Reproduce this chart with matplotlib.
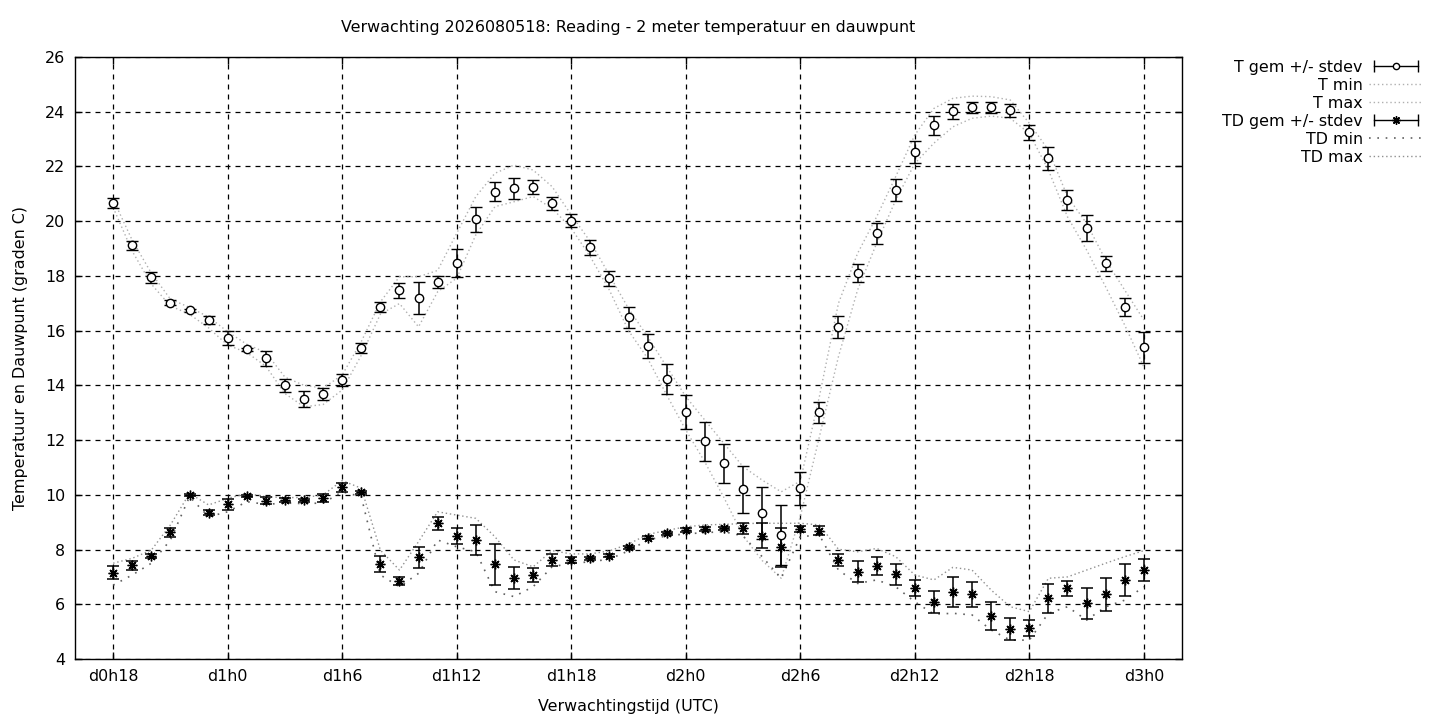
import matplotlib
matplotlib.use("Agg")
import matplotlib.pyplot as plt
from matplotlib.lines import Line2D
from matplotlib.legend_handler import HandlerLine2D, HandlerTuple

# forecast hours (d0h18 .. d3h0)
hours = list(range(18, 73))

t_mean = [20.65, 19.12, 17.95, 17.02, 16.74, 16.38, 15.72, 15.32, 14.99, 14.0,
          13.49, 13.68, 14.2, 15.35, 16.86, 17.47, 17.18, 17.77, 18.46, 20.07,
          21.08, 21.2, 21.24, 20.65, 20.02, 19.04, 17.91, 16.49, 15.43, 14.22,
          13.01, 11.95, 11.15, 10.2, 9.32, 8.52, 10.24, 13.01, 16.12, 18.09,
          19.55, 21.14, 22.52, 23.5, 24.02, 24.16, 24.16, 24.06, 23.25, 22.3,
          20.77, 19.74, 18.46, 16.85, 15.39]
t_sd = [0.18, 0.17, 0.2, 0.1, 0.05, 0.15, 0.26, 0.05, 0.27, 0.25,
        0.29, 0.21, 0.23, 0.18, 0.17, 0.27, 0.58, 0.23, 0.51, 0.46,
        0.36, 0.38, 0.25, 0.25, 0.23, 0.29, 0.28, 0.39, 0.44, 0.55,
        0.62, 0.71, 0.71, 0.86, 0.95, 1.1, 0.6, 0.37, 0.4, 0.33,
        0.4, 0.41, 0.4, 0.34, 0.27, 0.2, 0.2, 0.24, 0.27, 0.42,
        0.37, 0.47, 0.28, 0.33, 0.56]
t_min = [20.5, 18.9, 17.7, 16.9, 16.6, 16.1, 15.47, 15.2, 14.7, 13.7,
         13.22, 13.3, 13.83, 15.1, 16.6, 16.99, 16.14, 17.42, 17.92, 19.5,
         20.53, 20.71, 20.9, 20.47, 19.74, 18.7, 17.48, 16.0, 14.99, 13.65,
         12.37, 11.2, 9.9, 8.5, 7.6, 6.95, 9.2, 12.12, 15.05, 17.48,
         19.19, 20.77, 22.11, 22.85, 23.45, 23.76, 23.84, 23.76, 23.21, 21.87,
         20.16, 18.95, 17.6, 16.2, 14.68]
t_max = [20.8, 19.3, 18.1, 17.15, 16.85, 16.5, 15.96, 15.5, 15.2, 14.3,
         14.0, 13.9, 14.38, 15.6, 17.05, 17.97, 17.97, 18.2, 19.56, 20.9,
         21.75, 22.05, 21.87, 21.26, 20.23, 19.25, 18.03, 16.81, 15.78, 14.68,
         13.59, 12.73, 11.88, 11.03, 10.54, 10.11, 10.5, 13.59, 17.0, 18.82,
         20.16, 21.63, 23.15, 24.12, 24.49, 24.57, 24.55, 24.43, 23.58, 22.6,
         20.9, 19.92, 18.58, 17.48, 16.39]

td_mean = [7.15, 7.42, 7.77, 8.63, 9.99, 9.35, 9.65, 9.96, 9.79, 9.81,
           9.8, 9.89, 10.27, 10.09, 7.48, 6.86, 7.71, 8.96, 8.5, 8.35,
           7.46, 6.95, 7.07, 7.62, 7.62, 7.68, 7.77, 8.08, 8.44, 8.59,
           8.71, 8.75, 8.77, 8.77, 8.5, 8.08, 8.75, 8.69, 7.62, 7.19,
           7.4, 7.09, 6.59, 6.08, 6.45, 6.37, 5.57, 5.09, 5.12, 6.22,
           6.58, 6.03, 6.37, 6.89, 7.25]
td_sd = [0.24, 0.15, 0.08, 0.16, 0.05, 0.1, 0.2, 0.05, 0.12, 0.07,
         0.06, 0.15, 0.15, 0.06, 0.3, 0.15, 0.4, 0.23, 0.3, 0.55,
         0.75, 0.41, 0.24, 0.22, 0.1, 0.06, 0.06, 0.06, 0.06, 0.06,
         0.08, 0.06, 0.06, 0.2, 0.46, 0.7, 0.12, 0.16, 0.21, 0.38,
         0.34, 0.4, 0.29, 0.41, 0.54, 0.46, 0.5, 0.4, 0.29, 0.53,
         0.27, 0.56, 0.6, 0.58, 0.4]
td_min = [6.7, 7.07, 7.5, 8.35, 9.93, 9.2, 9.38, 9.75, 9.65, 9.7,
          9.68, 9.7, 10.11, 9.93, 7.07, 6.64, 7.13, 8.35, 8.1, 7.92,
          6.46, 6.28, 6.64, 7.37, 7.5, 7.55, 7.65, 7.95, 8.35, 8.5,
          8.57, 8.62, 8.65, 8.5, 7.74, 6.95, 8.47, 8.53, 7.25, 6.76,
          6.89, 6.64, 6.09, 5.64, 5.67, 5.61, 5.06, 4.69, 4.69, 5.67,
          5.91, 5.42, 5.91, 6.15, 6.64]
td_max = [7.5, 7.68, 7.98, 8.9, 10.05, 9.63, 9.87, 10.05, 9.93, 9.9,
          9.9, 10.0, 10.52, 10.24, 7.98, 7.25, 8.29, 9.38, 9.26, 9.14,
          8.47, 7.62, 7.37, 7.96, 7.84, 7.84, 7.95, 8.2, 8.55, 8.7,
          8.83, 8.9, 8.92, 8.95, 8.96, 8.96, 8.96, 8.9, 8.01, 7.92,
          8.04, 7.74, 7.07, 6.89, 7.35, 7.25, 6.52, 5.91, 5.73, 6.95,
          7.0, 7.25, 7.5, 7.74, 7.96]

tick_hours = [18, 24, 30, 36, 42, 48, 54, 60, 66, 72]
tick_labels = ["d0h18", "d1h0", "d1h6", "d1h12", "d1h18",
               "d2h0", "d2h6", "d2h12", "d2h18", "d3h0"]

plt.rcParams["font.family"] = "DejaVu Sans"
plt.rcParams["font.size"] = 11.4

fig = plt.figure(figsize=(14.4, 7.2), dpi=100)
ax = fig.add_axes([75/1440, 1-659/720, (1182-75)/1440, (659-57)/720])

tline = dict(color="#b0b0b0", lw=1.0, ls=(0, (1, 2)))
tdmin_line = dict(color="#606060", lw=1.2, ls=(0, (1, 4)))
tdmax_line = dict(color="#909090", lw=1.0, ls=(0, (1, 2)))

ax.plot(hours, t_min, **tline, zorder=2)
ax.plot(hours, t_max, **tline, zorder=2)
ax.plot(hours, td_min, **tdmin_line, zorder=2)
ax.plot(hours, td_max, **tdmax_line, zorder=2)

ax.errorbar(hours, t_mean, yerr=t_sd, fmt="o", ms=6, mfc="white", mec="black",
            mew=1, ecolor="black", elinewidth=1.1, capsize=4, capthick=1.1, zorder=3)
ax.errorbar(hours, td_mean, yerr=td_sd, fmt="none", ecolor="black",
            elinewidth=1.1, capsize=4, capthick=1.1, zorder=3)
ax.plot(hours, td_mean, ls="none", marker=(8, 2, 0), ms=7, mec="black", mew=1, zorder=4)

ax.set_xlim(16, 74)
ax.set_ylim(4, 26)
ax.set_yticks(range(4, 27, 2))
ax.set_xticks(tick_hours)
ax.set_xticklabels(tick_labels)
ax.tick_params(direction="in", top=True, right=True, length=5, width=1, pad=7)
ax.grid(True, color="black", lw=0.9, ls=(0, (4, 4)))
for s in ax.spines.values():
    s.set_linewidth(1)
    s.set_color("black")

ax.set_title("Verwachting 2026080518: Reading - 2 meter temperatuur en dauwpunt",
             fontsize=11.4, pad=18)
ax.set_xlabel("Verwachtingstijd (UTC)", labelpad=11)
ax.set_ylabel("Temperatuur en Dauwpunt (graden C)", labelpad=12)

# legend like gnuplot: right aligned text, sample to the right
caps_t = Line2D([], [], color="black", lw=1, marker="|", ms=8)
pt_t = Line2D([], [], ls="none", marker="o", ms=4.5, mfc="white", mec="black")
caps_td = Line2D([], [], color="black", lw=1, marker="|", ms=8)
pt_td = Line2D([], [], ls="none", marker=(8, 2, 0), ms=6, mec="black")
h_tmin = Line2D([], [], **tline)
h_tmax = Line2D([], [], **tline)
h_tdmin = Line2D([], [], **tdmin_line)
h_tdmax = Line2D([], [], **tdmax_line)

handles = [(caps_t, pt_t), h_tmin, h_tmax, (caps_td, pt_td), h_tdmin, h_tdmax]
labels = ["T gem +/- stdev", "T min", "T max", "TD gem +/- stdev", "TD min", "TD max"]
fig.legend(handles, labels, loc="upper right", bbox_to_anchor=(1423/1440, 1-60/720),
           frameon=False, markerfirst=False, handlelength=3.4, handletextpad=0.4,
           labelspacing=0.19, borderpad=0, borderaxespad=0,
           handler_map={caps_t: HandlerLine2D(numpoints=2),
                        caps_td: HandlerLine2D(numpoints=2),
                        tuple: HandlerTuple(ndivide=1)})

fig.savefig("out.png", dpi=100)
